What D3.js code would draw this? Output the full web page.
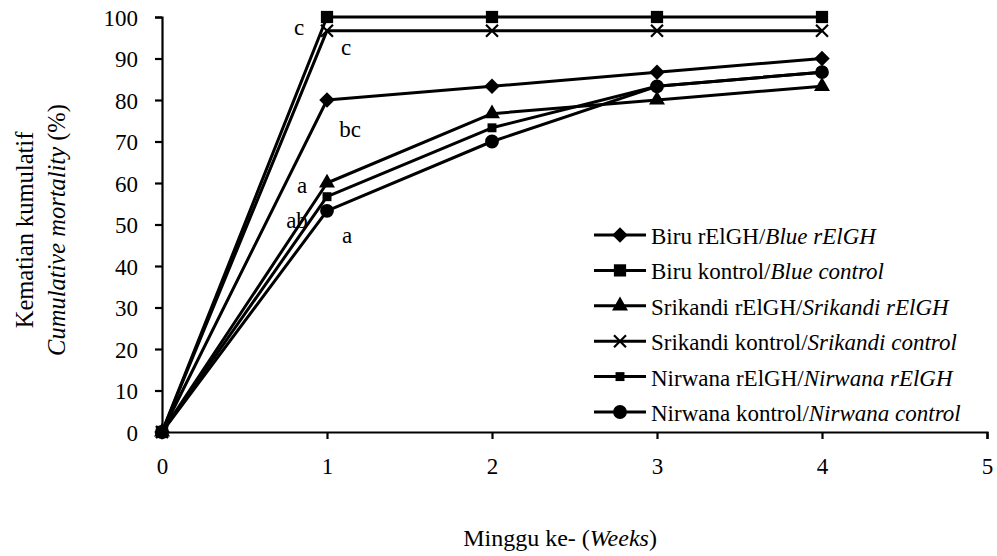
<!DOCTYPE html>
<html>
<head>
<meta charset="utf-8">
<script src="https://cdn.jsdelivr.net/npm/d3@7"></script>
<style>
  html, body { margin: 0; padding: 0; background: #fff; }
  svg { display: block; font-family: "Liberation Serif", "Times New Roman", serif; }
</style>
</head>
<body>
<svg id="chart" width="997" height="556"></svg>
<script>
// ---- data ----
const weeks = [0, 1, 2, 3, 4];
const xTicks = [0, 1, 2, 3, 4, 5];
const yTicks = [0, 10, 20, 30, 40, 50, 60, 70, 80, 90, 100];

const biruRElGH        = [0, 80, 83.3, 86.7, 90];
const biruKontrol      = [0, 100, 100, 100, 100];
const srikandiRElGH    = [0, 60, 76.7, 80, 83.3];
const srikandiKontrol  = [0, 96.7, 96.7, 96.7, 96.7];
const nirwanaRElGH     = [0, 56.7, 73.3, 83.3, 86.7];
const nirwanaKontrol   = [0, 53.3, 70, 83.3, 86.7];

const seriesNames = [
  ["Biru rElGH/", "Blue rElGH"],
  ["Biru kontrol/", "Blue control"],
  ["Srikandi rElGH/", "Srikandi rElGH"],
  ["Srikandi kontrol/", "Srikandi control"],
  ["Nirwana rElGH/", "Nirwana rElGH"],
  ["Nirwana kontrol/", "Nirwana control"]
];
const seriesValues = [biruRElGH, biruKontrol, srikandiRElGH, srikandiKontrol, nirwanaRElGH, nirwanaKontrol];
const seriesMarkers = ["diamond", "square", "triangle", "times", "smallsquare", "circle"];

// significance letters at week 1
const letterText  = ["c", "c", "bc", "a", "ab", "a"];
const letterValue = [100, 96.7, 80, 60, 56.7, 53.3];
const letterDx    = [-28, 19, 23, -25, -30, 20];
const letterDy    = [18, 24, 37, 10, 31, 32];

// ---- layout ----
const svg = d3.select("#chart");
const x = d3.scaleLinear().domain([0, 5]).range([162, 987]);
const y = d3.scaleLinear().domain([0, 100]).range([432, 17]);

// axes
const xAxis = svg.append("g").attr("transform", `translate(0,${y(0)})`)
  .call(d3.axisBottom(x).tickValues(xTicks).tickSize(7).tickPadding(19).tickFormat(d3.format("d")));
const yAxis = svg.append("g").attr("transform", `translate(${x(0)},0)`)
  .call(d3.axisLeft(y).tickValues(yTicks).tickSize(7).tickPadding(17).tickFormat(d3.format("d")));
[xAxis, yAxis].forEach(g => {
  g.select(".domain").attr("stroke", "#000").attr("stroke-width", 2.2);
  g.selectAll(".tick line").attr("stroke", "#000").attr("stroke-width", 2.2);
  g.selectAll(".tick text").attr("fill", "#000").style("font-size", "23px")
    .style("font-family", "'Liberation Serif', serif");
});
yAxis.selectAll(".tick text").attr("dy", "0.35em");

// axis titles
const xt = svg.append("text").attr("x", 560).attr("y", 546).attr("text-anchor", "middle")
  .style("font-size", "24px").attr("fill", "#000");
xt.append("tspan").text("Minggu ke- (");
xt.append("tspan").attr("font-style", "italic").text("Weeks");
xt.append("tspan").text(")");

const yt = svg.append("text").attr("transform", "translate(0,230) rotate(-90)")
  .attr("text-anchor", "middle").style("font-size", "24.5px").attr("fill", "#000");
yt.append("tspan").attr("x", 0).attr("y", 33).text("Kematian kumulatif");
const yt2 = yt.append("tspan").attr("x", 0).attr("y", 65);
yt2.append("tspan").attr("font-style", "italic").text("Cumulative mortality");
yt2.append("tspan").text(" (%)");

// markers
function drawMarker(g, type) {
  if (type === "diamond") {
    g.append("path").attr("d", d3.symbol().type(d3.symbolSquare).size(120)())
      .attr("transform", "rotate(45)").attr("fill", "#000");
  } else if (type === "square") {
    g.append("path").attr("d", d3.symbol().type(d3.symbolSquare).size(150)()).attr("fill", "#000");
  } else if (type === "smallsquare") {
    g.append("path").attr("d", d3.symbol().type(d3.symbolSquare).size(80)()).attr("fill", "#000");
  } else if (type === "triangle") {
    g.append("path").attr("d", d3.symbol().type(d3.symbolTriangle).size(110)()).attr("fill", "#000");
  } else if (type === "circle") {
    g.append("path").attr("d", d3.symbol().type(d3.symbolCircle).size(150)()).attr("fill", "#000");
  } else if (type === "times") {
    g.append("path").attr("d", d3.symbol().type(d3.symbolTimes).size(95)())
      .attr("fill", "none").attr("stroke", "#000").attr("stroke-width", 2.2);
  }
}

const line = d3.line().x((d, i) => x(weeks[i])).y(d => y(d));

seriesValues.forEach((vals, si) => {
  const g = svg.append("g");
  g.append("path").datum(vals).attr("d", line)
    .attr("fill", "none").attr("stroke", "#000").attr("stroke-width", 3)
    .attr("stroke-linejoin", "round");
  vals.forEach((v, i) => {
    const m = g.append("g").attr("transform", `translate(${x(weeks[i])},${y(v)})`);
    drawMarker(m, seriesMarkers[si]);
  });
});

// significance letters
letterText.forEach((t, i) => {
  svg.append("text").attr("x", x(1) + letterDx[i]).attr("y", y(letterValue[i]) + letterDy[i])
    .attr("text-anchor", "middle").style("font-size", "23px").attr("fill", "#000").text(t);
});

// legend
const legend = svg.append("g");
const legendRowY = d3.scalePoint().domain(d3.range(seriesNames.length)).range([235, 412]);
seriesNames.forEach((nm, i) => {
  const ry = legendRowY(i);
  const row = legend.append("g").attr("transform", `translate(0,${ry})`);
  row.append("line").attr("x1", 594).attr("x2", 646).attr("y1", 0).attr("y2", 0)
    .attr("stroke", "#000").attr("stroke-width", 3);
  const m = row.append("g").attr("transform", "translate(620,0)");
  drawMarker(m, seriesMarkers[i]);
  const tx = row.append("text").attr("x", 651).attr("y", 9).style("font-size", "23px").attr("fill", "#000");
  tx.append("tspan").text(nm[0]);
  tx.append("tspan").attr("font-style", "italic").text(nm[1]);
});
</script>
</body>
</html>
